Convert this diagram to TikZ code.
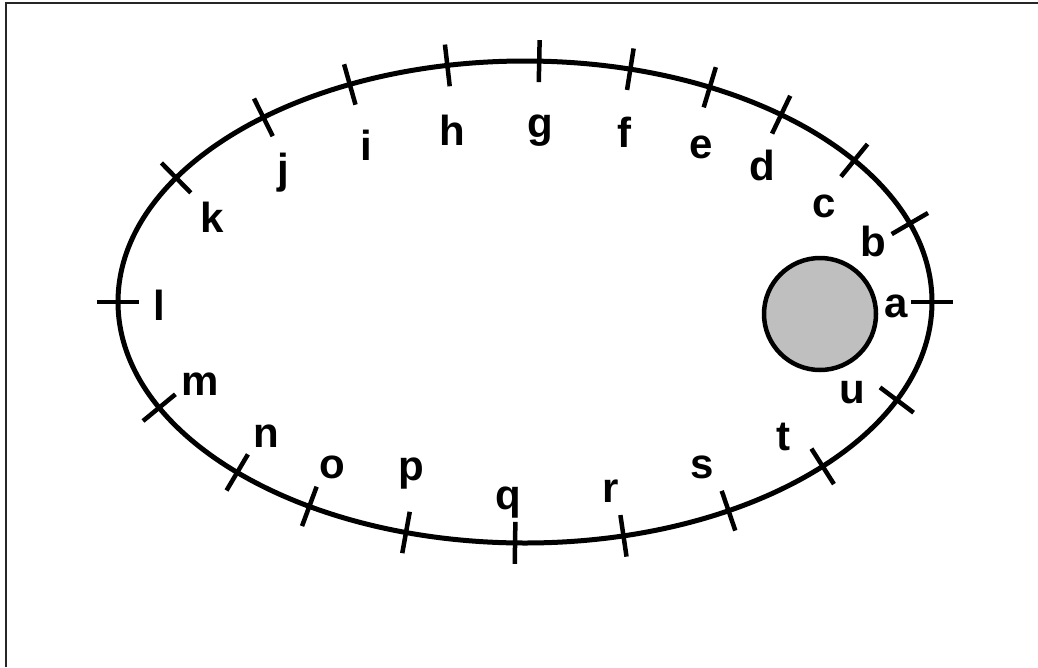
\documentclass[tikz,border=0pt]{standalone}
\usepackage{fontspec}
\setmainfont{Liberation Sans}
\begin{document}
\begin{tikzpicture}[x=1pt,y=-1pt,
  lbl/.style={font=\fontsize{42}{44}\selectfont\bfseries, inner sep=0pt, anchor=base},
  curve/.style={line width=5pt},
  tickmark/.style={line width=4.5pt},
  framed/.style={line width=2.5pt, black!85}]
\useasboundingbox (0,0) rectangle (1038,667);
\coordinate (fbl) at (6,667);
\coordinate (ftl) at (6,3);
\coordinate (ftr) at (1038,3);
\draw[framed] (fbl) -- (ftl) -- (ftr);
\coordinate (O) at (525,302);
\draw[curve] (O) ellipse [x radius=407, y radius=241];
\node[circle, draw, line width=4.5pt, fill=black!25, minimum size=112pt, inner sep=0pt] (obj) at (820,314) {};
\foreach \t/\l in {0/a,19/b,36/c,51/d,63/e,75/f,88/g,101/h,115.5/i,130/j,149/k,180/l,206/m,225/n,238/o,253/p,268.6/q,284/r,300/s,317/t,336/u}{
  \pgfmathsetmacro\px{525+407*cos(\t)}
  \pgfmathsetmacro\py{302-241*sin(\t)}
  \pgfmathsetmacro\nx{2.41*cos(\t)}
  \pgfmathsetmacro\ny{-4.07*sin(\t)}
  \pgfmathsetmacro\nn{veclen(\nx,\ny)}
  \pgfmathsetmacro\dx{21*\nx/\nn}
  \pgfmathsetmacro\dy{21*\ny/\nn}
  \coordinate (p\l) at (\px,\py);
  \draw[tickmark] (p\l) ++(\dx,\dy) -- ++(-2*\dx,-2*\dy);
}
\node[lbl] (la) at (896,317) {a};
\node[lbl] (lb) at (873,256) {b};
\node[lbl] (lc) at (824,217) {c};
\node[lbl] (ld) at (762,180) {d};
\node[lbl] (le) at (701,158) {e};
\node[lbl] (lf) at (624,147) {f};
\node[lbl] (lg) at (540,137) {g};
\node[lbl] (lh) at (452,145) {h};
\node[lbl] (li) at (366,160) {i};
\node[lbl] (lj) at (283,183) {j};
\node[lbl] (lk) at (212,232) {k};
\node[lbl] (ll) at (159,320) {l};
\node[lbl] (lm) at (200,395) {m};
\node[lbl] (ln) at (266,447) {n};
\node[lbl] (lo) at (332,478) {o};
\node[lbl] (lp) at (411,480) {p};
\node[lbl] (lq) at (508,509) {q};
\node[lbl] (lr) at (611,502) {r};
\node[lbl] (ls) at (702,478) {s};
\node[lbl] (lt) at (783,450) {t};
\node[lbl] (lu) at (852,403) {u};
\end{tikzpicture}
\end{document}
